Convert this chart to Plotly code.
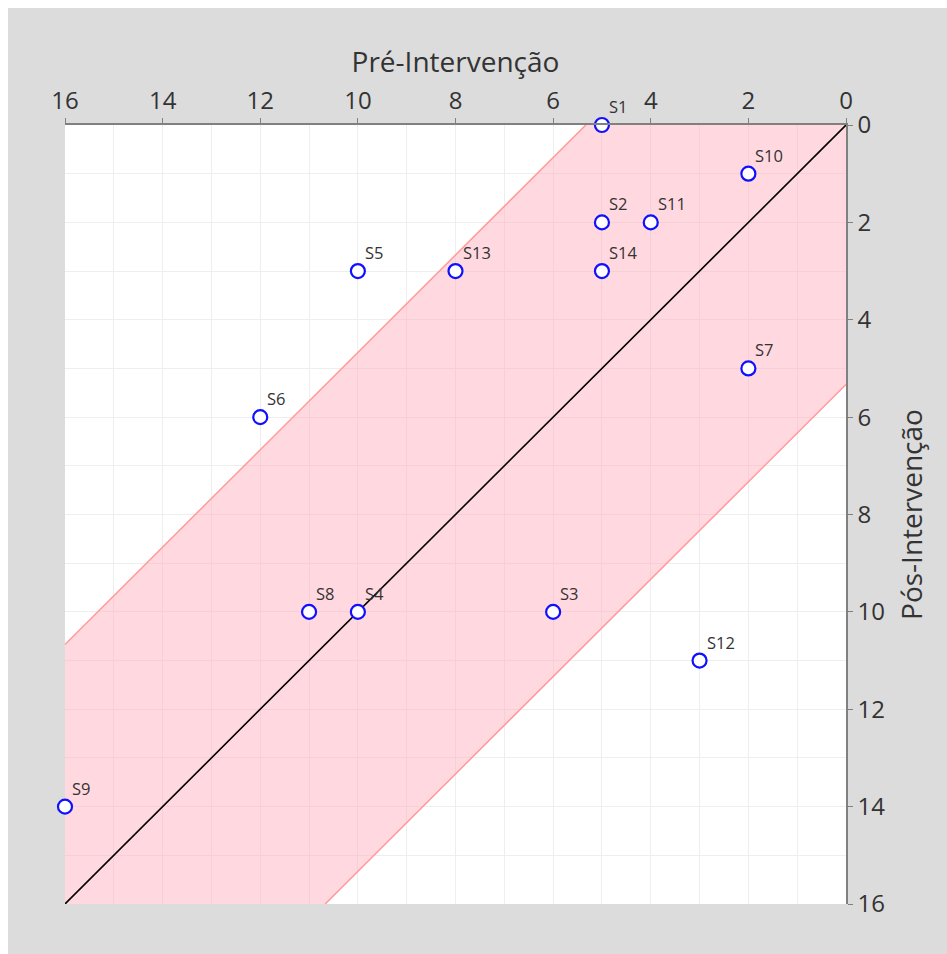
import plotly.graph_objects as go

labels = ["S1", "S2", "S3", "S4", "S5", "S6", "S7", "S8", "S9", "S10", "S11", "S12", "S13", "S14"]
pre = [5, 5, 6, 10, 10, 12, 2, 11, 16, 2, 4, 3, 8, 5]
post = [0, 2, 10, 10, 3, 6, 5, 10, 14, 1, 2, 11, 3, 3]
band_half = 5.33
axis_max = 16

FONT = "Open Sans, Noto Sans, sans-serif"

fig = go.Figure()

# band polygon |post - pre| <= band_half, clipped to [0, axis_max]
bx = [0, band_half, axis_max, axis_max, axis_max - band_half, 0, 0]
by = [0, 0, axis_max - band_half, axis_max, axis_max, band_half, 0]
fig.add_trace(go.Scatter(x=bx, y=by, mode="lines", fill="toself",
                         fillcolor="rgba(255,170,185,0.45)",
                         line=dict(width=0), hoverinfo="skip", showlegend=False))
# band edges
fig.add_trace(go.Scatter(x=[band_half, axis_max], y=[0, axis_max - band_half], mode="lines",
                         line=dict(color="#ff9a9a", width=1.5), hoverinfo="skip", showlegend=False))
fig.add_trace(go.Scatter(x=[0, axis_max - band_half], y=[band_half, axis_max], mode="lines",
                         line=dict(color="#ff9a9a", width=1.5), hoverinfo="skip", showlegend=False))
# identity line
fig.add_trace(go.Scatter(x=[0, axis_max], y=[0, axis_max], mode="lines",
                         line=dict(color="black", width=1.6), hoverinfo="skip", showlegend=False))
# points
fig.add_trace(go.Scatter(x=pre, y=post, mode="markers", text=labels,
                         marker=dict(size=14, color="white", line=dict(color="#1010ff", width=2.2)),
                         cliponaxis=False, showlegend=False))

for lab, x, y in zip(labels, pre, post):
    fig.add_annotation(x=x, y=y, text=lab, showarrow=False, xanchor="left", yanchor="bottom",
                       xshift=5, yshift=5, font=dict(family=FONT, size=16.5, color="#333333"))

fig.update_layout(
    width=950, height=960,
    margin=dict(l=57, r=112, t=117, b=64),
    paper_bgcolor="#dcdcdc", plot_bgcolor="white",
    font=dict(family=FONT, color="#333333"),
    showlegend=False,
    xaxis=dict(side="top", range=[axis_max, 0], dtick=2, tick0=0,
               showline=True, linecolor="#808080", linewidth=1.5,
               ticks="outside", ticklen=5, tickcolor="#808080",
               tickfont=dict(size=24, color="#333333"),
               showgrid=True, gridcolor="#eeeeee", gridwidth=1,
               minor=dict(dtick=1, showgrid=True, gridcolor="#eeeeee"),
               zeroline=False,
               title=dict(text="Pré-Intervenção", font=dict(size=28, color="#333333"), standoff=2)),
    yaxis=dict(side="right", range=[axis_max, 0], dtick=2, tick0=0,
               showline=True, linecolor="#808080", linewidth=1.5,
               ticks="outside", ticklen=5, tickcolor="#808080",
               tickfont=dict(size=24, color="#333333"),
               showgrid=True, gridcolor="#eeeeee", gridwidth=1,
               minor=dict(dtick=1, showgrid=True, gridcolor="#eeeeee"),
               zeroline=False,
               title=dict(text="Pós-Intervenção", font=dict(size=28, color="#333333"), standoff=18)),
)

fig.write_html(
    "out.html",
    post_script=(
        "document.documentElement.style.background='white';"
        "document.documentElement.style.overflow='hidden';"
        "document.body.style.margin='8px 0 0 8px';"
        "document.body.style.overflow='hidden';"
        "document.body.style.background='#dcdcdc';"
        "document.body.style.minHeight='100vh';"
    ),
)
